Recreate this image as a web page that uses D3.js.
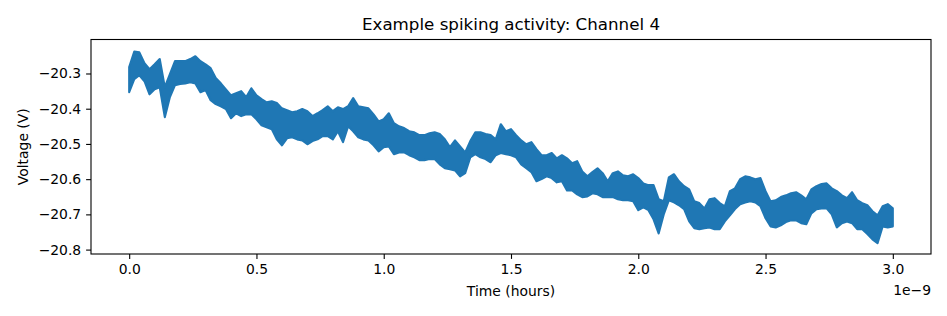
<!DOCTYPE html>
<html>
<head>
<meta charset="utf-8">
<script src="https://cdnjs.cloudflare.com/ajax/libs/d3/7.8.5/d3.min.js"></script>
<style>
  body { margin: 0; background: #fff; }
  svg { display: block; font-family: "DejaVu Sans", sans-serif; }
</style>
</head>
<body>
<svg></svg>
<script>
// the trace is fast noise on a slow drift, so it reads as a band:
// upper and lower edge of that band, every 0.02e-9 h
var voltageHigh = [
  -20.282, -20.238, -20.240, -20.271, -20.288, -20.274, -20.259, -20.339, -20.302, -20.265,
  -20.265, -20.265, -20.259, -20.251, -20.265, -20.274, -20.285, -20.313, -20.328, -20.345,
  -20.362, -20.356, -20.350, -20.367, -20.342, -20.362, -20.373, -20.382, -20.379, -20.384,
  -20.399, -20.404, -20.410, -20.407, -20.401, -20.407, -20.421, -20.413, -20.404, -20.393,
  -20.407, -20.396, -20.401, -20.393, -20.370, -20.393, -20.396, -20.399, -20.416, -20.436,
  -20.430, -20.413, -20.441, -20.450, -20.455, -20.464, -20.467, -20.475, -20.475, -20.470,
  -20.467, -20.472, -20.487, -20.509, -20.490, -20.507, -20.524, -20.492, -20.467, -20.467,
  -20.472, -20.475, -20.487, -20.444, -20.464, -20.458, -20.475, -20.490, -20.501, -20.495,
  -20.515, -20.532, -20.532, -20.526, -20.541, -20.532, -20.541, -20.555, -20.549, -20.578,
  -20.592, -20.580, -20.569, -20.583, -20.606, -20.583, -20.578, -20.589, -20.592, -20.586,
  -20.597, -20.612, -20.617, -20.617, -20.657, -20.663, -20.595, -20.586, -20.606, -20.620,
  -20.629, -20.663, -20.668, -20.683, -20.657, -20.654, -20.668, -20.677, -20.634, -20.626,
  -20.600, -20.592, -20.595, -20.600, -20.597, -20.634, -20.663, -20.660, -20.651, -20.646,
  -20.640, -20.637, -20.646, -20.657, -20.629, -20.620, -20.614, -20.612, -20.626, -20.634,
  -20.646, -20.654, -20.637, -20.660, -20.668, -20.674, -20.691, -20.703, -20.677, -20.671,
  -20.683
];
var voltageLow = [
  -20.353, -20.316, -20.305, -20.322, -20.359, -20.345, -20.339, -20.424, -20.367, -20.333,
  -20.330, -20.328, -20.325, -20.328, -20.353, -20.347, -20.376, -20.387, -20.393, -20.401,
  -20.427, -20.413, -20.421, -20.416, -20.416, -20.430, -20.447, -20.453, -20.458, -20.487,
  -20.504, -20.484, -20.481, -20.487, -20.490, -20.501, -20.492, -20.487, -20.478, -20.478,
  -20.487, -20.464, -20.495, -20.450, -20.464, -20.481, -20.487, -20.490, -20.504, -20.521,
  -20.509, -20.507, -20.529, -20.524, -20.524, -20.532, -20.538, -20.546, -20.546, -20.543,
  -20.543, -20.558, -20.569, -20.572, -20.575, -20.592, -20.583, -20.538, -20.529, -20.538,
  -20.543, -20.552, -20.532, -20.526, -20.529, -20.532, -20.538, -20.558, -20.569, -20.580,
  -20.606, -20.600, -20.592, -20.597, -20.609, -20.606, -20.632, -20.632, -20.643, -20.651,
  -20.649, -20.640, -20.643, -20.651, -20.651, -20.651, -20.657, -20.660, -20.660, -20.663,
  -20.688, -20.680, -20.688, -20.714, -20.754, -20.700, -20.660, -20.666, -20.674, -20.685,
  -20.720, -20.739, -20.742, -20.739, -20.737, -20.742, -20.742, -20.720, -20.703, -20.685,
  -20.671, -20.666, -20.663, -20.666, -20.677, -20.711, -20.734, -20.737, -20.731, -20.722,
  -20.717, -20.717, -20.725, -20.728, -20.697, -20.685, -20.683, -20.683, -20.700, -20.737,
  -20.725, -20.720, -20.725, -20.742, -20.742, -20.756, -20.771, -20.782, -20.734, -20.737,
  -20.734
];
var timeStep = 0.02;   // in units of 1e-9 hours

var xTicks = [0.0, 0.5, 1.0, 1.5, 2.0, 2.5, 3.0];
var yTicks = [-20.8, -20.7, -20.6, -20.5, -20.4, -20.3];
var xLimits = [-0.15, 3.15];
var yLimits = [-20.8125, -20.2035];

var margin = {top: 39.5, right: 16, bottom: 62, left: 91};
var width = 947 - margin.left - margin.right;
var height = 316 - margin.top - margin.bottom;

var svg = d3.select("svg")
    .attr("width", 947)
    .attr("height", 316);

var g = svg.append("g")
    .attr("transform", "translate(" + margin.left + "," + margin.top + ")");

var xScale = d3.scaleLinear()
               .domain(xLimits)
               .range([0, width]);

var yScale = d3.scaleLinear()
               .domain(yLimits)
               .range([height, 0]);

var xAxis = d3.axisBottom(xScale)
              .tickValues(xTicks)
              .tickFormat(d3.format(".1f"))
              .tickSize(4.9)
              .tickPadding(5.5);

var yAxis = d3.axisLeft(yScale)
              .tickValues(yTicks)
              .tickFormat(d3.format(".1f"))
              .tickSize(4.9)
              .tickPadding(4.9);

var band = d3.area()
             .x((d, i) => xScale(i * timeStep))
             .y0((d, i) => yScale(voltageLow[i]))
             .y1(d => yScale(d));

g.append("path")
    .datum(voltageHigh)
    .attr("d", band)
    .attr("fill", "#1f77b4")
    .attr("stroke", "#1f77b4")
    .attr("stroke-width", 2.1)
    .attr("stroke-linejoin", "round");

g.append("g")
    .attr("transform", "translate(0," + height + ")")
    .call(xAxis);

g.append("g")
    .call(yAxis);

g.selectAll(".domain").remove();
g.selectAll(".tick line").attr("stroke", "#000").attr("stroke-width", 1.1);
g.selectAll(".tick text")
    .attr("fill", "#000")
    .style("font-size", "13.9px")
    .style("font-family", "DejaVu Sans");

// spines
g.append("rect")
    .attr("width", width)
    .attr("height", height)
    .attr("fill", "none")
    .attr("stroke", "#000")
    .attr("stroke-width", 1.1);

g.append("text")
    .text("Example spiking activity: Channel 4")
    .attr("x", width / 2)
    .attr("y", -9.5)
    .style("text-anchor", "middle")
    .style("font-size", "16.7px");

g.append("text")
    .text("Time (hours)")
    .attr("x", width / 2)
    .attr("y", height + 42)
    .style("text-anchor", "middle")
    .style("font-size", "13.9px");

g.append("text")
    .text("1e\u22129")
    .attr("x", width)
    .attr("y", height + 41)
    .style("text-anchor", "end")
    .style("font-size", "13.9px");

g.append("text")
    .text("Voltage (V)")
    .attr("transform", "rotate(-90)")
    .attr("x", -height / 2)
    .attr("y", -63)
    .style("text-anchor", "middle")
    .style("font-size", "13.9px");
</script>
</body>
</html>
